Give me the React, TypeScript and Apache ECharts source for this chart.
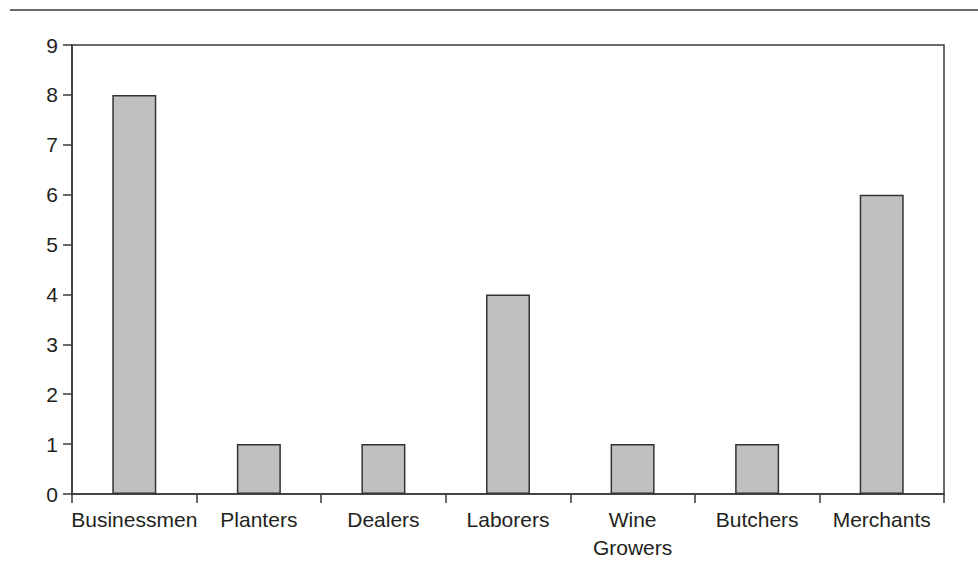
import React, { useEffect, useRef } from "react";
import * as echarts from "echarts";

const categories = ["Businessmen", "Planters", "Dealers", "Laborers", "Wine\nGrowers", "Butchers", "Merchants"];
const values = [8, 1, 1, 4, 1, 1, 6];

export default function App() {
  const ref = useRef<HTMLDivElement>(null);
  useEffect(() => {
    const chart = echarts.init(ref.current!, null, { renderer: "svg" });
    const font = "Liberation Sans, Arial, Helvetica, sans-serif";
    chart.setOption({
      animation: false,
      backgroundColor: "#ffffff",
      grid: {
        left: 72,
        right: 34,
        top: 45,
        bottom: 75,
        show: true,
        borderColor: "#3a3a3a",
        borderWidth: 1.5,
        backgroundColor: "transparent",
      },
      graphic: [
        {
          type: "line",
          shape: { x1: 10, y1: 10, x2: 978, y2: 10 },
          style: { stroke: "#3a3a3a", lineWidth: 1.5 },
        },
      ],
      xAxis: {
        type: "category",
        data: categories,
        axisLine: { lineStyle: { color: "#3a3a3a", width: 1.5 } },
        axisTick: { show: true, length: 9, lineStyle: { color: "#3a3a3a", width: 1.5 } },
        axisLabel: {
          interval: 0,
          color: "#231f20",
          fontSize: 21,
          fontFamily: font,
          margin: 11,
          lineHeight: 28,
        },
        splitLine: { show: false },
      },
      yAxis: {
        type: "value",
        min: 0,
        max: 9,
        interval: 1,
        axisLine: { show: true, lineStyle: { color: "#3a3a3a", width: 1.5 } },
        axisTick: { show: true, length: 9, lineStyle: { color: "#3a3a3a", width: 1.5 } },
        axisLabel: { color: "#231f20", fontSize: 21, fontFamily: font, margin: 14 },
        splitLine: { show: false },
      },
      series: [
        {
          type: "bar",
          data: values,
          barWidth: 44,
          itemStyle: { color: "#bfc0c2", borderColor: "#333333", borderWidth: 1.5 },
        },
      ],
    });
    return () => chart.dispose();
  }, []);
  return <div ref={ref} style={{ position: "fixed", left: 0, top: 0, width: 978, height: 569 }} />;
}
